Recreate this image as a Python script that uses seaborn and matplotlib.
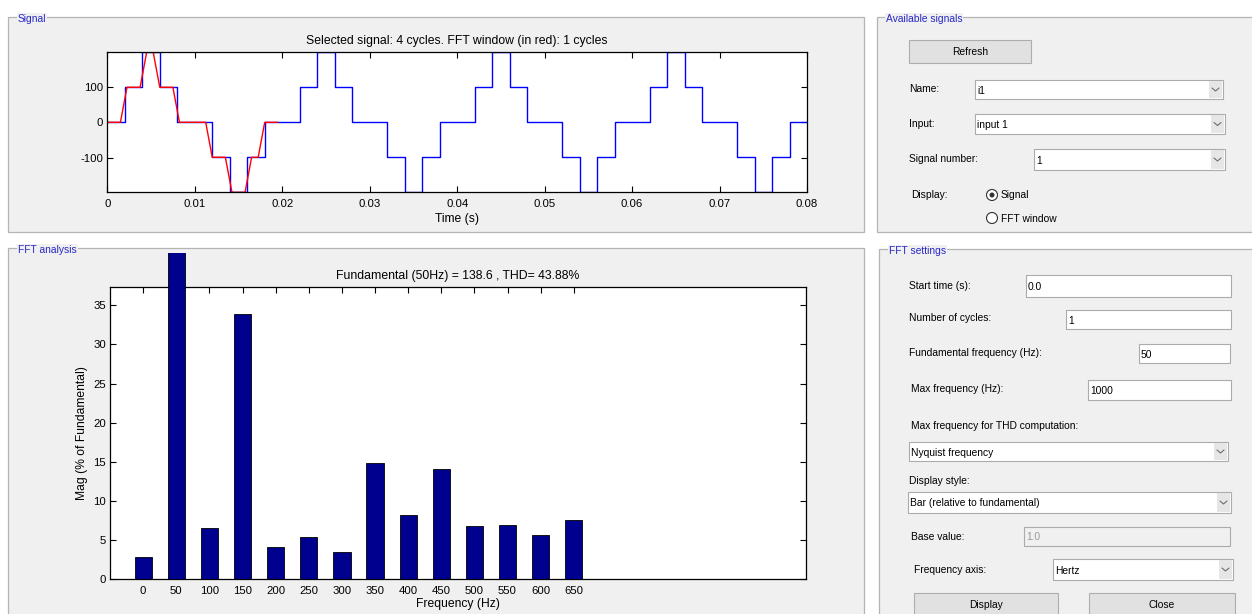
import matplotlib
matplotlib.use("Agg")
import pandas as pd
import seaborn as sns
import matplotlib.pyplot as plt
from matplotlib.patches import Rectangle, Ellipse
from matplotlib.lines import Line2D
from matplotlib.transforms import Bbox, TransformedBbox

W, H = 1252, 614

# signal (blue staircase, 4 cycles)
signal_t = [0.000, 0.002, 0.004, 0.006, 0.008, 0.010, 0.012, 0.014, 0.016, 0.018,
            0.020, 0.022, 0.024, 0.026, 0.028, 0.030, 0.032, 0.034, 0.036, 0.038,
            0.040, 0.042, 0.044, 0.046, 0.048, 0.050, 0.052, 0.054, 0.056, 0.058,
            0.060, 0.062, 0.064, 0.066, 0.068, 0.070, 0.072, 0.074, 0.076, 0.078,
            0.080]
signal_v = [0, 98, 196, 98, 0, 0, -98, -196, -98, 0,
            0, 98, 196, 98, 0, 0, -98, -196, -98, 0,
            0, 98, 196, 98, 0, 0, -98, -196, -98, 0,
            0, 98, 196, 98, 0, 0, -98, -196, -98, 0,
            0]

# FFT window (red, 1 cycle, sampled)
window_t = [0.0, 0.00075, 0.0015, 0.00225, 0.003, 0.00375, 0.0045, 0.00525, 0.006,
            0.00675, 0.0075, 0.00825, 0.009, 0.00975, 0.0105, 0.01125, 0.012,
            0.01275, 0.0135, 0.01425, 0.015, 0.01575, 0.0165, 0.01725, 0.018,
            0.01875, 0.0195]
window_v = [0, 0, 0, 98, 98, 98, 196, 196, 98, 98, 98, 0, 0, 0, 0, 0, -98,
            -98, -98, -196, -196, -196, -98, -98, 0, 0, 0]

# harmonic spectrum (% of fundamental)
harm_freq = [0, 50, 100, 150, 200, 250, 300, 350, 400, 450, 500, 550, 600, 650]
harm_mag = [2.8, 100, 6.5, 33.9, 4.1, 5.4, 3.5, 14.9, 8.2, 14.1, 6.8, 7.0, 5.7, 7.6]

signal_title = "Selected signal: 4 cycles. FFT window (in red): 1 cycles"
fft_title = "Fundamental (50Hz) = 138.6 , THD= 43.88%"

sns.set_style("ticks")
plt.rcParams['font.family'] = ['Liberation Sans', 'DejaVu Sans']
plt.rcParams['axes.edgecolor'] = 'black'
plt.rcParams['text.color'] = 'black'
plt.rcParams['axes.labelcolor'] = 'black'
plt.rcParams['xtick.color'] = 'black'
plt.rcParams['ytick.color'] = 'black'

PANEL = '#F0F0F0'
TITLE_BLUE = '#2828C8'
GUI_FS = 7.4
TICK_FS = 8.2
LABEL_FS = 8.7
TITLE_FS = 8.8

fig = plt.figure(figsize=(W / 100, H / 100), dpi=100, facecolor='white')


def fx(x):
    return x / W


def fy(y):
    return 1 - y / H


def box(x0, y0, x1, y1, fc, ec, lw=0.8, z=-1):
    fig.add_artist(Rectangle((fx(x0), fy(y1)), (x1 - x0) / W, (y1 - y0) / H,
                             transform=fig.transFigure, facecolor=fc,
                             edgecolor=ec, linewidth=lw, zorder=z))


def label(x, y, s, size=GUI_FS, color='black', ha='left', **kw):
    fig.text(fx(x), fy(y), s, ha=ha, va='center', fontsize=size, color=color, **kw)


def panel(x0, y0, x1, y1, title, tx):
    box(x0, y0, x1, y1, PANEL, '#B4B4B4', lw=0.9, z=-2)
    label(tx, y0 + 1.5, title, color=TITLE_BLUE,
          bbox=dict(facecolor=PANEL, edgecolor='none', pad=0.6))


def button(x0, y0, x1, y1, s, ty=None):
    box(x0, y0, x1, y1, '#E1E1E1', '#ADADAD')
    label((x0 + x1) / 2, ty if ty else (y0 + y1) / 2, s, ha='center')


def edit(x0, y0, x1, y1, s, disabled=False):
    box(x0, y0, x1, y1, '#F0F0F0' if disabled else 'white', '#ABABAB')
    label(x0 + 2, (y0 + y1) / 2 + 1, s, color='#9A9A9A' if disabled else 'black')


def dropdown(x0, y0, x1, y1, s):
    box(x0, y0, x1, y1, 'white', '#ABABAB')
    box(x1 - 14, y0 + 1, x1 - 1, y1 - 1, '#E6E6E6', 'none', lw=0)
    cx, cy = x1 - 7.5, (y0 + y1) / 2
    fig.add_artist(Line2D([fx(cx - 3.5), fx(cx), fx(cx + 3.5)],
                          [fy(cy - 1.5), fy(cy + 1.5), fy(cy - 1.5)],
                          transform=fig.transFigure, color='#6E6E6E', lw=0.8))
    label(x0 + 2, cy + 1, s)


def radio(cx, cy, checked):
    fig.add_artist(Ellipse((fx(cx), fy(cy)), 11 / W, 11 / H, transform=fig.transFigure,
                           facecolor='white', edgecolor='#333333', lw=0.8))
    if checked:
        fig.add_artist(Ellipse((fx(cx), fy(cy)), 5 / W, 5 / H, transform=fig.transFigure,
                               facecolor='#333333', edgecolor='none'))


# panels
panel(8, 17, 864, 232, 'Signal', 18)
panel(8, 248, 864, 640, 'FFT analysis', 18)
panel(877, 17, 1262, 232, 'Available signals', 886)
panel(879, 249, 1262, 640, 'FFT settings', 889)

# available signals widgets
button(909, 40, 1031, 63, 'Refresh', ty=52)
label(909, 89, 'Name:')
dropdown(975, 80, 1223, 99, 'i1')
label(909, 124, 'Input:')
dropdown(975, 114, 1225, 134, 'input 1')
label(909, 158.5, 'Signal number:')
dropdown(1034, 149, 1225, 170, '1')
label(911, 195, 'Display:')
radio(992, 195, True)
label(1001, 195.5, 'Signal')
radio(992, 218, False)
label(1001, 218.5, 'FFT window')

# fft settings widgets
label(909, 286, 'Start time (s):')
edit(1026, 275, 1231, 297, '0.0')
label(909, 318, 'Number of cycles:')
edit(1066, 310, 1231, 329, '1')
label(909, 353, 'Fundamental frequency (Hz):')
edit(1139, 344, 1230, 363, '50')
label(911, 389, 'Max frequency (Hz):')
edit(1088, 380, 1231, 400, '1000')
label(911, 426, 'Max frequency for THD computation:')
dropdown(909, 442, 1228, 461, 'Nyquist frequency')
label(909, 481, 'Display style:')
dropdown(908, 492, 1231, 513, 'Bar (relative to fundamental)')
label(911, 537, 'Base value:')
edit(1024, 527, 1230, 546, '1.0', disabled=True)
label(914, 570, 'Frequency axis:')
dropdown(1053, 559, 1233, 580, 'Hertz')
button(914, 593, 1058, 630, 'Display', ty=605.5)
button(1089, 593, 1235, 630, 'Close', ty=605.5)

# signal axes
ax1 = fig.add_axes([fx(107.3), fy(192.3), (807 - 107.3) / W, 140 / H])
ax1.set_facecolor('white')
sns.lineplot(x=signal_t, y=signal_v, drawstyle='steps-post', color='blue',
             lw=1.0, errorbar=None, ax=ax1)
sns.lineplot(x=window_t, y=window_v, color='red', lw=1.0, errorbar=None, ax=ax1)
ax1.set_xlim(0, 0.08)
ax1.set_ylim(-196, 196)
ax1.set_xticks([0, 0.01, 0.02, 0.03, 0.04, 0.05, 0.06, 0.07, 0.08])
ax1.set_xticklabels(['0', '0.01', '0.02', '0.03', '0.04', '0.05', '0.06', '0.07', '0.08'])
ax1.set_yticks([-100, 0, 100])
ax1.set_yticklabels(['-100', '0', '100'])
ax1.tick_params(direction='in', top=True, right=True, length=4, width=0.8,
                labelsize=TICK_FS)
ax1.tick_params(axis='x', pad=4.6)
ax1.tick_params(axis='y', pad=3)
ax1.set_xlabel('Time (s)', fontsize=LABEL_FS, labelpad=3)
ax1.set_ylabel('')
ax1.set_title(signal_title, fontsize=TITLE_FS, pad=6)
for sp in ax1.spines.values():
    sp.set_linewidth(0.9)

# fft axes
ax2 = fig.add_axes([fx(110), fy(579.3), (805.7 - 110) / W, (579.3 - 287.3) / H])
ax2.set_facecolor('white')
df = pd.DataFrame({'freq': harm_freq, 'mag': harm_mag})
sns.barplot(data=df, x='freq', y='mag', native_scale=True, width=0.52,
            color='#00008F', saturation=1, edgecolor='black', linewidth=0.6,
            errorbar=None, ax=ax2)
ax2.set_xlim(-50, 1000)
ax2.set_ylim(0, 37.3)
ax2.set_xticks(harm_freq)
ax2.set_xticklabels([str(f) for f in harm_freq])
ax2.set_yticks([0, 5, 10, 15, 20, 25, 30, 35])
ax2.tick_params(direction='in', top=True, right=True, length=4, width=0.8,
                labelsize=TICK_FS)
ax2.tick_params(axis='x', pad=4.6)
ax2.tick_params(axis='y', pad=3)
ax2.set_xlabel('Frequency (Hz)', fontsize=LABEL_FS, labelpad=2)
ax2.set_ylabel('Mag (% of Fundamental)', fontsize=LABEL_FS, labelpad=4)
ax2.set_title(fft_title, fontsize=TITLE_FS, pad=6)
for sp in ax2.spines.values():
    sp.set_linewidth(0.9)

# the fundamental bar runs past the axes top up to the panel edge
clip = TransformedBbox(Bbox.from_extents(0, fy(614), 1, fy(253)), fig.transFigure)
for p in ax2.patches:
    p.set_zorder(3)
    if p.get_height() >= 99:
        p.set_clip_path(None)
        p.set_clip_box(clip)

fig.savefig('out.png', dpi=100, facecolor='white')
